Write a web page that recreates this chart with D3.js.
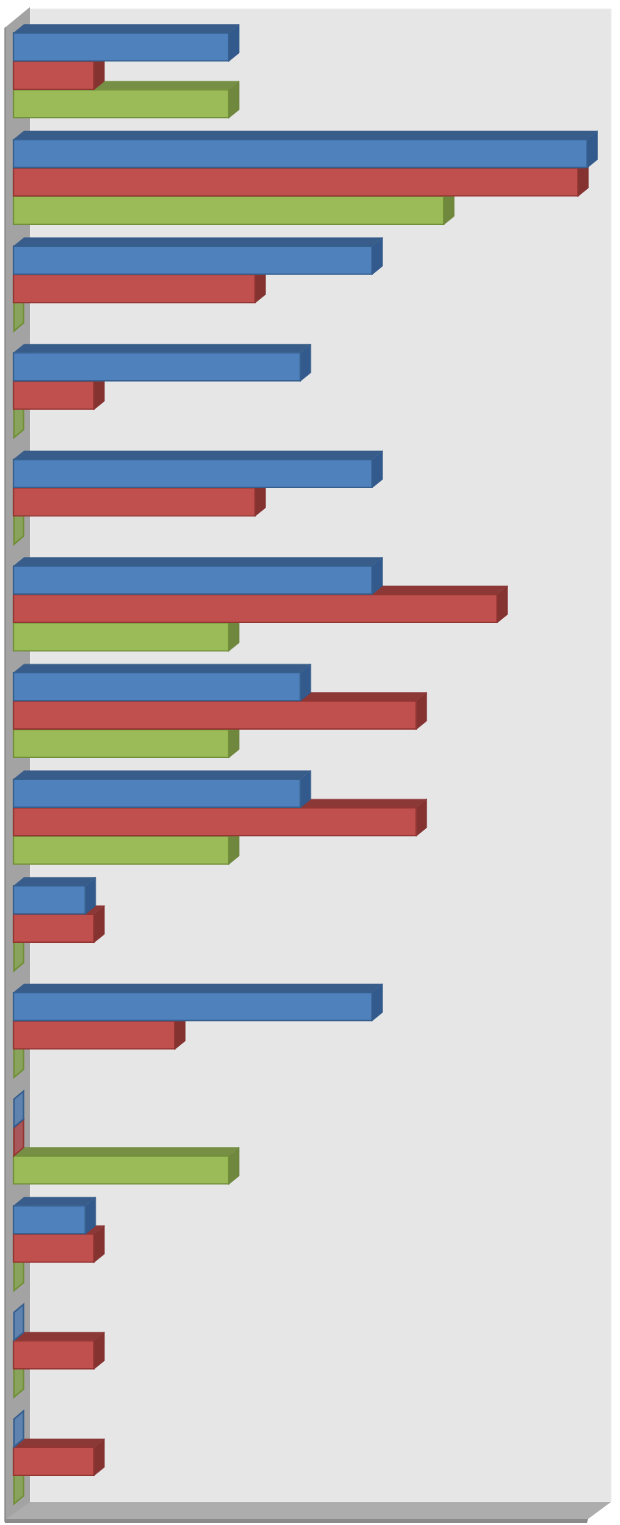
<!DOCTYPE html>
<html><head><meta charset="utf-8">
<script src="https://cdn.jsdelivr.net/npm/d3@7"></script>
<style>html,body{margin:0;padding:0;background:#fff}svg{display:block}</style>
</head><body><div id="c"></div>
<script>
const categories = ["c1","c2","c3","c4","c5","c6","c7","c8","c9","c10","c11","c12","c13","c14"];
const seriesNames = ["blue","red","green"];
const blueValues  = [37.5,100,62.5,50,62.5,62.5,50,50,12.5,62.5,0,12.5,0,0];
const redValues   = [14,98.4,42.1,14,42.1,84.3,70.2,70.2,14,28.1,0,14,14,14];
const greenValues = [37.5,75,0,0,0,37.5,37.5,37.5,0,0,37.5,0,0,0];
const seriesValues = {blue:blueValues,red:redValues,green:greenValues};
const faceColors = {blue:"#4f81bd",red:"#c0504d",green:"#9bbb59"};
const topColors  = {blue:"#385d8a",red:"#8c3836",green:"#778f45"};
const sideColors = {blue:"#325a8c",red:"#843331",green:"#6f883e"};
const edgeColors = {blue:"#37608f",red:"#943634",green:"#72903a"};
const zeroFill   = {blue:"#5f83ae",red:"#a8585a",green:"#8aa35c"};
const W=620,H=1525, dx=10.5, dy=8.5;
const svg=d3.select("#c").append("svg").attr("width",W).attr("height",H);
const x=d3.scaleLinear().domain([0,100]).range([13.5,587]);
const y0=d3.scaleBand().domain(categories).range([33,33+106.62*14]).paddingInner(0).paddingOuter(0);
const y1=d3.scaleBand().domain(seriesNames).range([0,85.2]);
const poly=(g,pts,fill,extra={})=>{
  const p=g.append("polygon").attr("points",pts.map(d=>d.join(",")).join(" ")).attr("fill",fill);
  Object.entries(extra).forEach(([k,v])=>p.attr(k,v));return p;
};
// walls
const wall=svg.append("g");
poly(wall,[[30,9],[611,9],[611,1502],[30,1502]],"#e6e6e6",{stroke:"#ececec","stroke-width":1});
poly(wall,[[4.5,28],[30,7],[30,1503],[4.5,1522]],"#a3a3a3");
poly(wall,[[4.5,28],[6,27],[6,1521],[4.5,1522]],"#8f8f8f");
poly(wall,[[6,1519],[30,1502],[611,1502],[588,1519]],"#adadad");
poly(wall,[[5,1519],[588,1519],[587,1523],[5,1523]],"#8b8b8b");
// bars: back (bottom) groups first, lower series first
const plot=svg.append("g");
[...categories].reverse().forEach(cat=>{
  const i=categories.indexOf(cat);
  [...seriesNames].reverse().forEach(s=>{
    const v=seriesValues[s][i], x0=x(0), x1=x(v), t=y0(cat)+y1(s), b=t+y1.bandwidth();
    const g=plot.append("g");
    if(v===0){
      poly(g,[[x0+.5,t],[x0+dx-.5,t-dy+.5],[x0+dx-.5,b-dy],[x0+.5,b-.5]],zeroFill[s],{stroke:edgeColors[s],"stroke-width":1.6});
      return;
    }
    poly(g,[[x0,t],[x0+dx,t-dy],[x1+dx,t-dy],[x1,t]],topColors[s],{stroke:topColors[s],"stroke-width":.6});
    poly(g,[[x1,t],[x1+dx,t-dy],[x1+dx,b-dy],[x1,b]],sideColors[s],{stroke:sideColors[s],"stroke-width":.6});
    poly(g,[[x0,t],[x1,t],[x1,b-.5],[x0,b-.5]],faceColors[s],{stroke:edgeColors[s],"stroke-width":1.3});
  });
});
</script></body></html>
